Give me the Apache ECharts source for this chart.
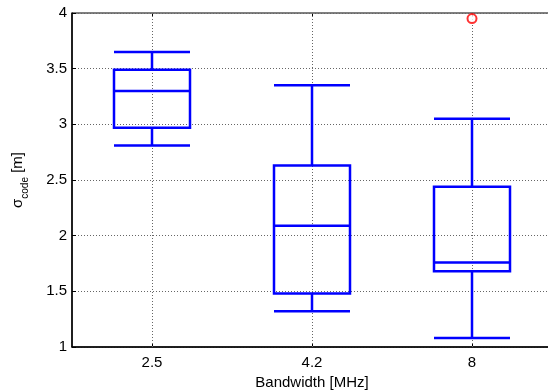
<!DOCTYPE html>
<html>
<head>
<meta charset="utf-8">
<script src="https://cdn.jsdelivr.net/npm/echarts@6/dist/echarts.min.js"></script>
<style>
  html, body { margin: 0; padding: 0; background: #fff; }
  #chart { width: 548px; height: 391px; }
</style>
</head>
<body>
<div id="chart"></div>
<script>
// bandwidth categories
const bandwidths = ['2.5', '4.2', '8'];
// [lower whisker, Q1, median, Q3, upper whisker]
const boxStats = [
  [2.81, 2.97, 3.30, 3.49, 3.65],
  [1.32, 1.48, 2.09, 2.63, 3.35],
  [1.08, 1.68, 1.76, 2.44, 3.05]
];
// outliers: [category, value]
const outliers = [['8', 3.95]];

const font = 'Liberation Sans, Arial, Helvetica, sans-serif';
const gridStyle = { color: '#666', type: [1, 2], width: 1 };

const myChart = echarts.init(document.getElementById('chart'));

myChart.setOption({
  animation: false,
  grid: {
    left: 72,
    right: -4,
    top: 13,
    bottom: 44,
    outerBoundsMode: 'none',
    containLabel: false,
    show: true,
    borderColor: '#000',
    borderWidth: 1
  },
  xAxis: [
    {
      type: 'category',
      data: bandwidths,
      boundaryGap: true,
      name: 'Bandwidth [MHz]',
      nameLocation: 'middle',
      nameGap: 27,
      nameTextStyle: { color: '#000', fontSize: 15, fontFamily: font },
      axisLine: { lineStyle: { color: '#000', width: 1.5 } },
      axisTick: { show: true, inside: true, alignWithLabel: true, length: 4, lineStyle: { color: '#000' } },
      axisLabel: { color: '#000', fontSize: 15, fontFamily: font, margin: 8 },
      splitLine: { show: false }
    },
    {
      // mirrored ticks along the top edge
      type: 'category',
      data: bandwidths,
      position: 'top',
      boundaryGap: true,
      axisLine: { show: false },
      axisTick: { show: true, inside: true, alignWithLabel: true, length: 4, lineStyle: { color: '#000' } },
      axisLabel: { show: false },
      splitLine: { show: false }
    }
  ],
  yAxis: {
    type: 'value',
    min: 1,
    max: 4,
    interval: 0.5,
    name: '{s|σ}{sub|code}{s| [m]}',
    nameLocation: 'middle',
    nameGap: 42,
    nameRotate: 90,
    nameTextStyle: {
      color: '#000',
      fontFamily: font,
      rich: {
        s: { fontSize: 15, fontFamily: font, color: '#000', lineHeight: 20, verticalAlign: 'top' },
        sub: { fontSize: 10, fontFamily: font, color: '#000', lineHeight: 20, verticalAlign: 'bottom' }
      }
    },
    axisLine: { show: true, lineStyle: { color: '#000', width: 1.5 } },
    axisTick: { show: true, inside: true, length: 4, lineStyle: { color: '#000' } },
    axisLabel: { color: '#000', fontSize: 15, fontFamily: font, margin: 5 },
    splitLine: { show: true, lineStyle: gridStyle }
  },
  series: [
    {
      type: 'boxplot',
      data: boxStats,
      boxWidth: [76, 76],
      itemStyle: { color: 'transparent', borderColor: '#0000ff', borderWidth: 2.5 },
      z: 3,
      markLine: {
        silent: true,
        symbol: 'none',
        label: { show: false },
        lineStyle: gridStyle,
        z: 1,
        data: bandwidths.map(function (b) { return { xAxis: b }; })
      }
    },
    {
      type: 'scatter',
      data: outliers,
      symbol: 'emptyCircle',
      symbolSize: 9,
      itemStyle: { color: '#ff0000', borderColor: '#ff0000', borderWidth: 2 },
      z: 4
    }
  ]
});
</script>
</body>
</html>
